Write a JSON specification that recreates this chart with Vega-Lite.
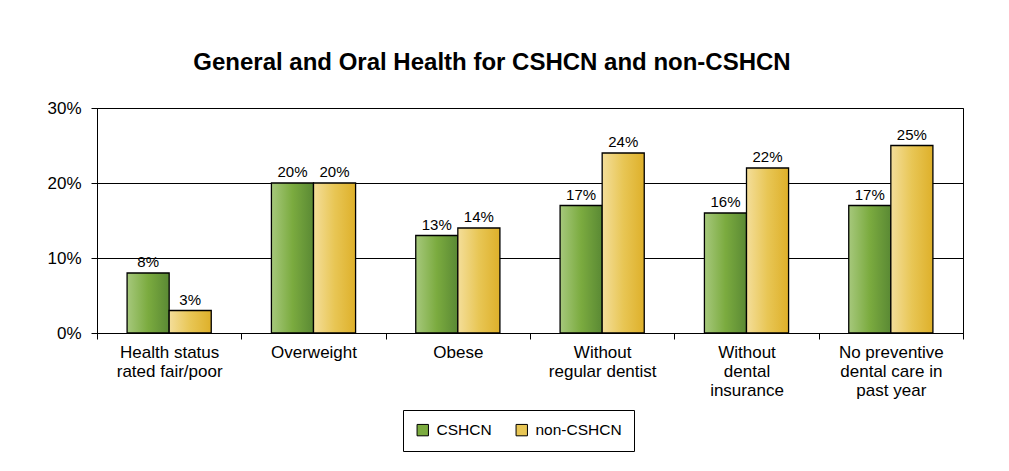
{
  "$schema": "https://vega.github.io/schema/vega-lite/v6.json",
  "autosize": {"type": "none"},
  "width": 866,
  "height": 225,
  "padding": {"left": 97, "top": 108, "right": 46, "bottom": 138},
  "background": "white",
  "config": {
    "font": "Liberation Sans",
    "view": {"stroke": "black", "strokeWidth": 1}
  },
  "title": {
    "text": "General and Oral Health for CSHCN and non-CSHCN",
    "fontSize": 24,
    "fontWeight": "bold",
    "color": "black",
    "anchor": "middle",
    "dx": -38,
    "offset": 24
  },
  "data": {
    "values": [
      {"cat": "Health status|rated fair/poor", "group": "CSHCN", "v": 0.08},
      {"cat": "Health status|rated fair/poor", "group": "non-CSHCN", "v": 0.03},
      {"cat": "Overweight", "group": "CSHCN", "v": 0.20},
      {"cat": "Overweight", "group": "non-CSHCN", "v": 0.20},
      {"cat": "Obese", "group": "CSHCN", "v": 0.13},
      {"cat": "Obese", "group": "non-CSHCN", "v": 0.14},
      {"cat": "Without|regular dentist", "group": "CSHCN", "v": 0.17},
      {"cat": "Without|regular dentist", "group": "non-CSHCN", "v": 0.24},
      {"cat": "Without|dental|insurance", "group": "CSHCN", "v": 0.16},
      {"cat": "Without|dental|insurance", "group": "non-CSHCN", "v": 0.22},
      {"cat": "No preventive|dental care in|past year", "group": "CSHCN", "v": 0.17},
      {"cat": "No preventive|dental care in|past year", "group": "non-CSHCN", "v": 0.25}
    ]
  },
  "encoding": {
    "x": {
      "field": "cat",
      "type": "nominal",
      "sort": null,
      "scale": {"paddingInner": 0, "paddingOuter": 0},
      "axis": {
        "title": null,
        "labelAngle": 0,
        "labelExpr": "datum.value ? split(datum.value, '|') : ''",
        "labelFontSize": 17,
        "labelLineHeight": 19,
        "labelColor": "black",
        "labelBaseline": "top",
        "labelPadding": 5,
        "tickBand": "extent",
        "tickSize": 6,
        "tickColor": "black",
        "domainColor": "black",
        "labelAlign": "center"
      }
    },
    "xOffset": {
      "field": "group",
      "type": "nominal",
      "sort": ["CSHCN", "non-CSHCN"],
      "scale": {"domain": ["CSHCN", "non-CSHCN"], "paddingInner": 0, "paddingOuter": 0.715}
    },
    "y": {
      "field": "v",
      "type": "quantitative",
      "scale": {"domain": [0, 0.3], "nice": false},
      "axis": {
        "title": null,
        "values": [0, 0.1, 0.2, 0.3],
        "format": ".0%",
        "labelFontSize": 17,
        "labelColor": "black",
        "labelPadding": 10,
        "tickSize": 6,
        "tickColor": "black",
        "domainColor": "black",
        "gridColor": "black",
        "gridOpacity": 1,
        "grid": true
      }
    }
  },
  "layer": [
    {
      "transform": [{"filter": "datum.group === 'CSHCN'"}],
      "mark": {
        "type": "bar",
        "stroke": "black",
        "strokeWidth": 1.3,
        "fill": {"gradient": "linear", "x1": 0, "y1": 0, "x2": 1, "y2": 0, "stops": [{"offset": 0, "color": "#a6c87c"}, {"offset": 0.5, "color": "#7bab3f"}, {"offset": 1, "color": "#5a8934"}]}
      }
    },
    {
      "transform": [{"filter": "datum.group === 'non-CSHCN'"}],
      "mark": {
        "type": "bar",
        "stroke": "black",
        "strokeWidth": 1.3,
        "fill": {"gradient": "linear", "x1": 0, "y1": 0, "x2": 1, "y2": 0, "stops": [{"offset": 0, "color": "#f4de9a"}, {"offset": 0.5, "color": "#e8c655"}, {"offset": 1, "color": "#deb02a"}]}
      }
    },
    {
      "mark": {"type": "bar", "opacity": 0},
      "encoding": {
        "color": {
          "field": "group",
          "type": "nominal",
          "scale": {"domain": ["CSHCN", "non-CSHCN"], "range": ["#7bab3f", "#e8c655"]},
          "legend": {
            "title": null,
            "orient": "none",
            "legendX": 306,
            "legendY": 302,
            "direction": "horizontal",
            "strokeColor": "black",
            "padding": 12,
            "symbolType": "square",
            "symbolSize": 130,
            "symbolOpacity": 1,
            "symbolStrokeColor": "black",
            "symbolStrokeWidth": 1,
            "labelFontSize": 15.5,
            "labelColor": "black",
            "columnPadding": 22,
            "labelOffset": 6
          }
        }
      }
    },
    {
      "mark": {"type": "text", "baseline": "alphabetic", "dy": -6, "fontSize": 15, "color": "black"},
      "encoding": {
        "text": {"field": "v", "type": "quantitative", "format": ".0%"}
      }
    }
  ]
}
